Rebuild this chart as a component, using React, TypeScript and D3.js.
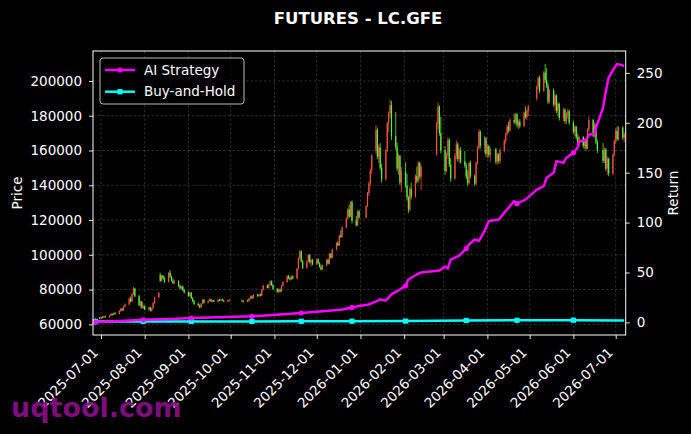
import { useRef, useEffect } from "react";
import * as d3 from "d3";

// trading calendar (weekdays minus exchange holidays)
const firstDay = "2025-06-27";
const lastDay = "2026-07-07";
const holidays = [
  "2025-10-01", "2025-10-02", "2025-10-03", "2025-10-06", "2025-10-07", "2025-10-08",
  "2026-01-01", "2026-01-02",
  "2026-02-16", "2026-02-17", "2026-02-18", "2026-02-19", "2026-02-20", "2026-02-23",
  "2026-04-06", "2026-05-01", "2026-05-04", "2026-05-05", "2026-06-19",
];

// daily candles [open, high, low, close], price in thousands
const candles = [
  // 2025-06
  [63.0, 63.8, 61.3, 63.5], [63.5, 64.2, 63.0, 63.2],
  // 2025-07
  [63.2, 64.5, 62.9, 64.2], [64.2, 64.8, 63.6, 63.9], [63.9, 64.9, 63.7, 64.6], [64.6, 65.0, 63.8, 64.1],
  [64.1, 65.3, 63.9, 65.0], [65.0, 66.4, 64.8, 66.0], [66.0, 66.3, 65.1, 65.4], [65.4, 66.8, 65.2, 66.5],
  [66.5, 67.0, 65.6, 65.9], [65.9, 68.2, 65.7, 67.8], [67.8, 69.5, 67.2, 69.0], [69.0, 69.4, 67.6, 68.1],
  [68.1, 70.5, 67.9, 70.2], [70.2, 72.0, 69.8, 71.5], [71.5, 75.4, 71.0, 74.8], [74.8, 76.0, 72.6, 73.2],
  [73.2, 78.0, 72.8, 77.4], [77.4, 81.5, 76.8, 80.6], [80.6, 81.0, 75.5, 76.2], [76.2, 77.0, 70.5, 71.0],
  [71.0, 73.8, 69.6, 72.9], [72.9, 73.5, 69.0, 69.5], [69.5, 71.2, 68.8, 70.4],
  // 2025-08
  [70.4, 71.0, 68.2, 68.6], [68.6, 70.2, 67.8, 69.8], [69.8, 70.1, 67.5, 68.0], [68.0, 69.6, 67.2, 69.1],
  [69.1, 72.8, 68.9, 72.3], [72.3, 76.0, 71.8, 75.4], [75.4, 78.6, 75.0, 78.1], [88.5, 89.6, 84.2, 85.0],
  [85.0, 88.4, 84.6, 88.0], [88.0, 88.6, 85.8, 86.3], [86.3, 87.5, 83.9, 84.5], [84.5, 90.2, 84.0, 89.6],
  [89.6, 91.2, 86.8, 87.4], [87.4, 88.0, 84.6, 85.1], [85.1, 86.5, 83.2, 83.8], [83.8, 85.6, 83.0, 84.9],
  [84.9, 85.3, 81.6, 82.1], [82.1, 83.0, 80.2, 80.7], [80.7, 82.4, 79.9, 81.8], [81.8, 82.2, 79.1, 79.6],
  [79.6, 80.4, 77.8, 78.3],
  // 2025-09
  [78.3, 78.9, 75.8, 76.4], [76.4, 78.8, 76.0, 78.2], [78.2, 78.5, 74.6, 75.0], [75.0, 75.6, 72.8, 73.3],
  [73.3, 74.1, 71.2, 71.8], [71.8, 72.6, 70.4, 71.0], [71.0, 71.5, 69.3, 69.8], [69.8, 72.2, 69.5, 71.9],
  [71.9, 74.6, 71.5, 74.2], [74.2, 74.5, 72.0, 72.4], [72.4, 73.8, 72.0, 73.5], [73.5, 74.9, 73.1, 74.4],
  [74.4, 74.7, 72.9, 73.2], [73.2, 74.0, 72.6, 73.8], [73.8, 74.2, 72.8, 73.0], [73.0, 74.5, 72.7, 74.1],
  [74.1, 74.8, 73.4, 73.6], [73.6, 74.6, 73.2, 74.3], [74.3, 74.9, 73.5, 73.8], [73.8, 74.3, 72.9, 73.1],
  [73.1, 74.2, 72.8, 73.9], [73.9, 74.6, 73.3, 74.0],
  // 2025-10
  [73.6, 74.4, 72.8, 73.2], [73.2, 74.0, 72.4, 73.7], [73.7, 74.2, 72.9, 73.4], [73.4, 75.2, 73.0, 74.8],
  [74.8, 76.5, 74.3, 76.1], [76.1, 76.6, 74.6, 75.0], [75.0, 77.4, 74.7, 77.0], [77.0, 77.6, 75.8, 76.3],
  [76.3, 77.5, 75.9, 77.2], [77.2, 77.8, 76.0, 76.5], [76.5, 80.2, 76.2, 79.8], [79.8, 82.8, 79.4, 82.3],
  [82.3, 83.0, 80.6, 81.0], [81.0, 83.2, 80.7, 82.8], [82.8, 85.2, 82.4, 84.7], [84.7, 85.4, 82.0, 82.5],
  [82.5, 83.1, 79.8, 80.4],
  // 2025-11
  [80.4, 80.9, 78.2, 78.6], [78.6, 80.5, 77.8, 80.1], [80.1, 80.6, 78.4, 78.9], [78.9, 82.6, 78.5, 82.2],
  [82.2, 84.8, 81.8, 84.3], [84.3, 88.2, 84.0, 87.7], [87.7, 88.4, 86.0, 86.5], [86.5, 87.6, 85.2, 85.8],
  [85.8, 88.0, 85.4, 87.5], [87.5, 88.2, 85.9, 86.4], [86.4, 92.5, 86.0, 92.0], [92.0, 98.6, 91.5, 98.0],
  [98.0, 102.8, 97.2, 102.0], [102.0, 102.5, 95.6, 96.2], [96.2, 97.0, 91.8, 92.4], [92.4, 96.8, 92.0, 96.3],
  [96.3, 100.4, 95.8, 99.8], [99.8, 100.3, 95.0, 95.6], [95.6, 97.5, 93.4, 97.0], [97.0, 97.6, 94.0, 94.5],
  // 2025-12
  [94.5, 97.8, 94.1, 97.3], [97.3, 98.0, 94.8, 95.2], [95.2, 95.8, 92.6, 93.1], [93.1, 94.5, 91.0, 91.6],
  [91.6, 94.2, 91.2, 93.8], [93.8, 97.6, 93.4, 97.1], [97.1, 97.8, 94.4, 94.9], [94.9, 101.2, 94.5, 100.6],
  [100.6, 101.0, 97.8, 98.3], [98.3, 103.6, 97.9, 103.0], [103.0, 107.2, 102.5, 106.8], [106.8, 108.0, 104.9, 105.4],
  [105.4, 111.6, 105.0, 111.0], [111.0, 113.8, 109.8, 110.3], [110.3, 116.4, 109.9, 115.8], [115.8, 121.5, 115.2, 120.9],
  [120.9, 126.8, 120.3, 126.2], [126.2, 129.0, 121.4, 122.0], [122.0, 131.0, 121.5, 130.4], [130.4, 131.2, 118.0, 119.6],
  [119.6, 122.4, 116.2, 117.0], [117.0, 125.6, 116.5, 125.0], [125.0, 126.0, 120.8, 121.5],
  // 2026-01
  [121.5, 128.6, 121.0, 128.0], [128.0, 136.2, 127.4, 135.5], [135.5, 142.0, 133.8, 141.2], [141.2, 149.5, 139.6, 148.7],
  [148.7, 158.0, 146.5, 157.2], [160.0, 174.6, 158.5, 171.8], [171.8, 173.2, 155.0, 156.4], [156.4, 163.5, 152.8, 161.8],
  [161.8, 164.2, 148.6, 150.0], [150.0, 152.4, 141.6, 143.5], [143.5, 160.8, 142.8, 160.0], [160.0, 176.5, 159.2, 175.8],
  [175.8, 182.4, 170.6, 181.5], [181.5, 189.2, 178.5, 186.0], [186.0, 188.6, 166.0, 168.4], [168.4, 182.2, 160.5, 162.0],
  [162.0, 164.5, 148.0, 149.6], [149.6, 158.2, 146.0, 156.8], [156.8, 157.5, 140.2, 141.5], [141.5, 150.6, 136.0, 148.0],
  // 2026-02
  [148.0, 153.2, 138.6, 140.0], [140.0, 146.5, 131.2, 133.0], [133.0, 134.0, 124.0, 126.0], [126.0, 139.2, 125.0, 138.0],
  [138.0, 141.5, 131.8, 133.5], [133.5, 146.2, 132.8, 145.4], [145.4, 150.8, 141.0, 142.2], [142.2, 154.0, 141.6, 152.8],
  [152.8, 153.5, 143.5, 145.0], [145.0, 151.8, 137.2, 150.6], [158.0, 176.5, 156.8, 175.4], [175.4, 187.6, 172.0, 185.2],
  [185.2, 186.0, 168.5, 170.0], [170.0, 179.4, 158.2, 160.0],
  // 2026-03
  [160.0, 162.4, 146.0, 148.2], [148.2, 158.6, 147.5, 157.4], [157.4, 167.5, 155.2, 166.0], [166.0, 167.0, 150.5, 152.0],
  [152.0, 155.6, 142.0, 143.8], [143.8, 158.4, 143.2, 157.0], [157.0, 165.8, 155.0, 163.5], [163.5, 164.6, 153.6, 155.0],
  [155.0, 161.6, 152.8, 160.2], [160.2, 162.0, 152.4, 153.8], [153.8, 159.6, 150.2, 151.5], [151.5, 152.8, 143.5, 145.0],
  [145.0, 148.6, 139.8, 141.2], [141.2, 153.6, 140.5, 152.8], [152.8, 154.2, 144.0, 145.5], [145.5, 146.2, 139.6, 141.0],
  [141.0, 153.8, 140.2, 152.6], [152.6, 162.5, 151.8, 161.4], [161.4, 172.4, 160.6, 170.8], [170.8, 171.6, 161.0, 162.6],
  [162.6, 168.4, 158.6, 167.0], [167.0, 167.8, 156.4, 158.0],
  // 2026-04
  [158.0, 163.8, 155.6, 162.5], [162.5, 163.2, 156.0, 157.4], [157.4, 162.0, 153.6, 160.8], [160.8, 161.5, 152.2, 153.6],
  [153.6, 158.6, 151.8, 157.8], [157.8, 158.4, 152.6, 154.0], [154.0, 161.2, 152.4, 160.0], [160.0, 166.5, 158.8, 165.6],
  [165.6, 170.4, 164.0, 169.5], [169.5, 174.8, 168.6, 173.8], [173.8, 176.4, 170.2, 171.4], [171.4, 178.6, 170.8, 177.5],
  [177.5, 181.2, 175.0, 176.2], [176.2, 181.6, 175.4, 180.8], [180.8, 181.5, 173.2, 174.4], [174.4, 177.6, 172.2, 176.6],
  [176.6, 178.2, 172.8, 174.0], [174.0, 182.6, 173.5, 181.8], [181.8, 185.4, 178.2, 179.2], [179.2, 183.8, 177.6, 183.0],
  [183.0, 186.4, 179.8, 185.4],
  // 2026-05
  [190.0, 197.5, 188.6, 196.8], [196.8, 202.6, 195.0, 201.8], [201.8, 203.0, 192.8, 194.2], [194.2, 205.6, 193.6, 204.8],
  [204.8, 209.8, 198.8, 200.5], [200.5, 207.4, 196.0, 197.2], [197.2, 199.0, 186.6, 188.0], [188.0, 195.4, 187.2, 194.6],
  [194.6, 195.8, 185.2, 186.4], [186.4, 192.6, 183.0, 191.5], [191.5, 192.2, 181.5, 182.8], [182.8, 188.0, 179.6, 186.8],
  [186.8, 187.4, 177.2, 178.6], [178.6, 184.6, 177.0, 183.4], [183.4, 184.2, 175.6, 176.8], [176.8, 182.0, 175.0, 180.6],
  [180.6, 184.0, 178.2, 182.6], [182.6, 183.4, 174.8, 176.0],
  // 2026-06
  [176.0, 177.2, 169.6, 170.8], [170.8, 174.5, 168.2, 173.6], [173.6, 174.2, 166.4, 167.5], [167.5, 169.8, 163.8, 165.0],
  [165.0, 168.6, 162.4, 167.8], [167.8, 168.4, 161.2, 162.5], [162.5, 166.8, 160.6, 165.9], [165.9, 166.5, 160.0, 161.2],
  [161.2, 172.8, 160.8, 172.0], [172.0, 179.4, 170.5, 177.6], [177.6, 178.2, 167.4, 168.5], [168.5, 176.2, 167.6, 174.8],
  [174.8, 175.4, 163.6, 164.8], [164.8, 166.0, 158.6, 160.0], [160.0, 164.2, 152.6, 154.0], [154.0, 161.8, 152.8, 160.6],
  [160.6, 161.4, 148.2, 149.5], [149.5, 156.6, 146.0, 155.2], [155.2, 156.0, 145.2, 146.8], [146.8, 158.4, 145.6, 157.5],
  [157.5, 166.2, 156.6, 165.4],
  // 2026-07
  [165.4, 172.6, 163.6, 171.2], [171.2, 173.8, 165.4, 166.6], [166.6, 174.2, 165.8, 173.2], [173.2, 174.0, 166.2, 167.4],
  [167.4, 170.6, 164.8, 169.2],
];

// cumulative return (right axis)
const aiDates = [
  "2025-06-27", "2025-07-15", "2025-07-31", "2025-08-20", "2025-09-03", "2025-09-22", "2025-10-16",
  "2025-10-31", "2025-11-20", "2025-12-05", "2025-12-12", "2025-12-19", "2025-12-26", "2025-12-31",
  "2026-01-07", "2026-01-13", "2026-01-15", "2026-01-19", "2026-01-23", "2026-01-29", "2026-02-02",
  "2026-02-04", "2026-02-10", "2026-02-13", "2026-02-26", "2026-03-02", "2026-03-04", "2026-03-06",
  "2026-03-12", "2026-03-17", "2026-03-19", "2026-03-23", "2026-03-26", "2026-03-30", "2026-04-02",
  "2026-04-09", "2026-04-14", "2026-04-20", "2026-04-22", "2026-04-28", "2026-05-06", "2026-05-11",
  "2026-05-13", "2026-05-18", "2026-05-20", "2026-05-25", "2026-05-27", "2026-06-01", "2026-06-04",
  "2026-06-05", "2026-06-10", "2026-06-12", "2026-06-16", "2026-06-17", "2026-06-22", "2026-06-24",
  "2026-06-26", "2026-06-30", "2026-07-02", "2026-07-06", "2026-07-07",
];
const aiReturns = [
  0.3, 1.4, 2.6, 3.5, 4.4, 5.2, 6.1,
  7.3, 9.4, 11.2, 12.0, 13.0, 15.0, 16.5,
  18.0, 21.5, 23.0, 21.8, 28.0, 33.0, 36.6,
  43.0, 48.0, 50.0, 52.0, 56.0, 54.0, 63.0,
  67.0, 74.0, 78.0, 83.0, 81.6, 91.6, 101.6,
  103.0, 111.6, 121.6, 119.0, 123.0, 133.0, 136.6,
  145.0, 150.0, 161.6, 160.0, 165.0, 170.0, 175.0,
  181.0, 183.0, 188.0, 189.0, 195.0, 215.0, 231.6,
  245.0, 255.0, 259.0, 257.5, 257.0,
];
const bhDates = [
  "2025-06-27", "2025-07-31", "2025-09-03", "2025-10-16", "2025-11-20", "2025-12-26",
  "2026-02-02", "2026-03-17", "2026-04-22", "2026-06-01", "2026-07-07",
];
const bhReturns = [0.8, 1.0, 1.0, 1.0, 1.1, 1.2, 1.3, 1.9, 2.1, 2.2, 2.0];
const markerDates = [
  "2025-06-27", "2025-07-31", "2025-09-03", "2025-10-16", "2025-11-20",
  "2025-12-26", "2026-02-02", "2026-03-17", "2026-04-22", "2026-06-01",
];
const monthTicks = [
  "2025-07-01", "2025-08-01", "2025-09-01", "2025-10-01", "2025-11-01", "2025-12-01", "2026-01-01",
  "2026-02-01", "2026-03-01", "2026-04-01", "2026-05-01", "2026-06-01", "2026-07-01",
];

const FONT = "DejaVu Sans, sans-serif";
const UP = "#f5503f";
const DOWN = "#57f23c";

const App = () => {
  const svgRef = useRef(null);

  useEffect(() => {
    d3.select(svgRef.current).selectAll("*").remove();

    const width = 691;
    const height = 434;
    const left = 93;
    const right = 625.7;
    const top = 51;
    const bottom = 335;

    const parse = d3.utcParse("%Y-%m-%d");
    const fmt = d3.utcFormat("%Y-%m-%d");

    const days = d3
      .utcDays(parse(firstDay), d3.utcDay.offset(parse(lastDay), 1))
      .filter((d) => d.getUTCDay() % 6 !== 0 && !holidays.includes(fmt(d)));

    const bars = days.slice(0, candles.length).map((d, i) => ({
      date: d,
      open: candles[i][0] * 1000,
      high: candles[i][1] * 1000,
      low: candles[i][2] * 1000,
      close: candles[i][3] * 1000,
    }));

    const svg = d3
      .select(svgRef.current)
      .attr("width", width)
      .attr("height", height)
      .style("font-family", FONT);

    svg.append("rect").attr("width", width).attr("height", height).attr("fill", "#000");

    const x = d3
      .scaleUtc()
      .domain([new Date("2025-06-25T08:00:00Z"), new Date("2026-07-08T02:00:00Z")])
      .range([left, right]);

    const pMin = d3.min(bars, (d) => d.low);
    const pMax = d3.max(bars, (d) => d.high);
    const pPad = (pMax - pMin) * 0.05;
    const y = d3.scaleLinear().domain([pMin - pPad, pMax + pPad]).range([bottom, top]);

    const allRet = aiReturns.concat(bhReturns);
    const rMin = d3.min(allRet);
    const rMax = d3.max(allRet);
    const rPad = (rMax - rMin) * 0.05;
    const yr = d3.scaleLinear().domain([rMin - rPad, rMax + rPad]).range([bottom, top]);

    const tickDates = monthTicks.map(parse);

    // grid
    const grid = svg.append("g");
    grid
      .selectAll("line.gx")
      .data(tickDates)
      .enter()
      .append("line")
      .attr("x1", (d) => x(d))
      .attr("x2", (d) => x(d))
      .attr("y1", top)
      .attr("y2", bottom)
      .attr("stroke", "#8a8a8a")
      .attr("stroke-opacity", 0.55)
      .attr("stroke-width", 0.6)
      .attr("stroke-dasharray", "2.5,2");
    grid
      .selectAll("line.gy")
      .data(y.ticks(8))
      .enter()
      .append("line")
      .attr("x1", left)
      .attr("x2", right)
      .attr("y1", (d) => y(d))
      .attr("y2", (d) => y(d))
      .attr("stroke", "#8a8a8a")
      .attr("stroke-opacity", 0.55)
      .attr("stroke-width", 0.6)
      .attr("stroke-dasharray", "2.5,2");

    // candles
    const cg = svg.append("g");
    const bodyW = 1.2;
    cg.selectAll("line.wick")
      .data(bars)
      .enter()
      .append("line")
      .attr("x1", (d) => x(d.date))
      .attr("x2", (d) => x(d.date))
      .attr("y1", (d) => y(d.high))
      .attr("y2", (d) => y(d.low))
      .attr("stroke", (d) => (d.close >= d.open ? UP : DOWN))
      .attr("stroke-width", 0.8);
    cg.selectAll("rect.body")
      .data(bars)
      .enter()
      .append("rect")
      .attr("x", (d) => x(d.date) - bodyW / 2)
      .attr("width", bodyW)
      .attr("y", (d) => y(Math.max(d.open, d.close)))
      .attr("height", (d) => Math.max(0.8, Math.abs(y(d.open) - y(d.close))))
      .attr("fill", (d) => (d.close >= d.open ? UP : DOWN));

    // return lines
    const aiPts = aiDates.map((d, i) => ({ date: parse(d), v: aiReturns[i] }));
    const bhPts = bhDates.map((d, i) => ({ date: parse(d), v: bhReturns[i] }));
    const line = d3
      .line()
      .x((d) => x(d.date))
      .y((d) => yr(d.v));

    svg
      .append("path")
      .datum(bhPts)
      .attr("d", line)
      .attr("fill", "none")
      .attr("stroke", "#00ffff")
      .attr("stroke-width", 2.5)
      .attr("stroke-linejoin", "round");
    svg
      .append("path")
      .datum(aiPts)
      .attr("d", line)
      .attr("fill", "none")
      .attr("stroke", "#ff00ff")
      .attr("stroke-width", 2.5)
      .attr("stroke-linejoin", "round");

    svg
      .selectAll("rect.bhm")
      .data(bhPts.filter((d) => markerDates.includes(fmt(d.date))))
      .enter()
      .append("rect")
      .attr("x", (d) => x(d.date) - 2.6)
      .attr("y", (d) => yr(d.v) - 2.6)
      .attr("width", 5.2)
      .attr("height", 5.2)
      .attr("fill", "#00ffff");
    svg
      .selectAll("circle.aim")
      .data(aiPts.filter((d) => markerDates.includes(fmt(d.date))))
      .enter()
      .append("circle")
      .attr("cx", (d) => x(d.date))
      .attr("cy", (d) => yr(d.v))
      .attr("r", 2.6)
      .attr("fill", "#ff00ff");

    // spines
    svg
      .append("rect")
      .attr("x", left)
      .attr("y", top)
      .attr("width", right - left)
      .attr("height", bottom - top)
      .attr("fill", "none")
      .attr("stroke", "#fff")
      .attr("stroke-width", 1);

    const styleAxis = (g) => {
      g.select(".domain").remove();
      g.selectAll("line").attr("stroke", "#fff").attr("stroke-width", 0.9);
      g.selectAll("text").attr("fill", "#fff").style("font-size", "13.5px").style("font-family", FONT);
    };

    svg
      .append("g")
      .attr("transform", `translate(${left},0)`)
      .call(d3.axisLeft(y).ticks(8).tickFormat(d3.format("d")).tickSize(4).tickPadding(7))
      .call(styleAxis);

    svg
      .append("g")
      .attr("transform", `translate(${right},0)`)
      .call(d3.axisRight(yr).ticks(6).tickFormat(d3.format("d")).tickSize(4).tickPadding(7))
      .call(styleAxis);

    const xAxis = svg
      .append("g")
      .attr("transform", `translate(0,${bottom})`)
      .call(d3.axisBottom(x).tickValues(tickDates).tickFormat(fmt).tickSize(4).tickPadding(7))
      .call(styleAxis);
    xAxis
      .selectAll("text")
      .attr("y", 0)
      .attr("x", 0)
      .attr("dy", 0)
      .attr("text-anchor", "end")
      .attr("transform", "translate(-2.3,18.3) rotate(-45)");

    // axis labels and title
    svg
      .append("text")
      .attr("transform", `translate(22,${(top + bottom) / 2}) rotate(-90)`)
      .attr("text-anchor", "middle")
      .attr("fill", "#fff")
      .style("font-size", "13.5px")
      .text("Price");
    svg
      .append("text")
      .attr("transform", `translate(678,${(top + bottom) / 2}) rotate(-90)`)
      .attr("text-anchor", "middle")
      .attr("fill", "#fff")
      .style("font-size", "13.5px")
      .text("Return");
    svg
      .append("text")
      .attr("x", 358)
      .attr("y", 24)
      .attr("text-anchor", "middle")
      .attr("fill", "#fff")
      .style("font-size", "16.5px")
      .style("font-weight", "bold")
      .text("FUTURES - LC.GFE");

    // legend
    const lg = svg.append("g").attr("transform", "translate(100,58)");
    lg.append("rect")
      .attr("width", 144)
      .attr("height", 46)
      .attr("rx", 3)
      .attr("fill", "#000")
      .attr("fill-opacity", 0.8)
      .attr("stroke", "#bbbbbb")
      .attr("stroke-width", 1);
    const items = [
      { name: "AI Strategy", color: "#ff00ff", shape: "circle" },
      { name: "Buy-and-Hold", color: "#00ffff", shape: "square" },
    ];
    items.forEach((it, i) => {
      const cy = 12 + i * 21.7;
      lg.append("line")
        .attr("x1", 5)
        .attr("x2", 35)
        .attr("y1", cy)
        .attr("y2", cy)
        .attr("stroke", it.color)
        .attr("stroke-width", 2.5);
      if (it.shape === "circle") {
        lg.append("circle").attr("cx", 20).attr("cy", cy).attr("r", 2.6).attr("fill", it.color);
      } else {
        lg.append("rect")
          .attr("x", 17.4)
          .attr("y", cy - 2.6)
          .attr("width", 5.2)
          .attr("height", 5.2)
          .attr("fill", it.color);
      }
      lg.append("text")
        .attr("x", 44)
        .attr("y", cy)
        .attr("dy", "0.35em")
        .attr("fill", "#fff")
        .style("font-size", "13.5px")
        .text(it.name);
    });

    // watermark
    svg
      .append("text")
      .attr("x", 11)
      .attr("y", 417)
      .attr("fill", "#8c0f8c")
      .attr("fill-opacity", 0.92)
      .style("font-size", "27px")
      .style("font-weight", "bold")
      .text("uqtool.com");
  }, []);

  return (
    <div style={{ position: "absolute", left: 0, top: 0, width: 691, height: 434, background: "#000" }}>
      <svg ref={svgRef}></svg>
    </div>
  );
};

export default App;
